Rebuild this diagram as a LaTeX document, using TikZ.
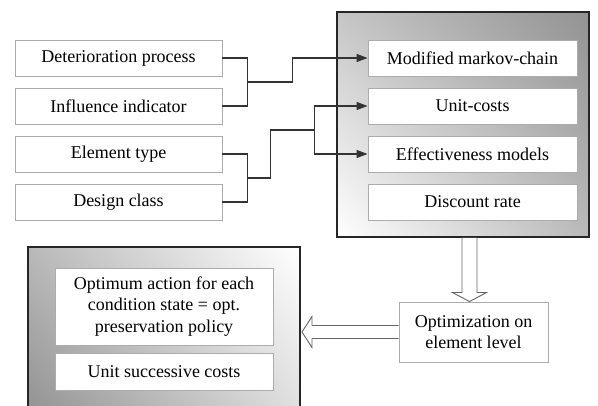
\documentclass[tikz,border=0pt]{standalone}
\usepackage{fontspec}
\setmainfont{Liberation Serif}
\usetikzlibrary{arrows.meta,calc,shadings}

\tikzset{
  item/.style={draw=gray!65, line width=0.9pt, fill=white, inner sep=2pt,
    minimum width=207pt, minimum height=36pt, align=center,
    font=\fontsize{18}{21.5}\selectfont},
  panel/.style={draw=black!85, line width=1.3pt},
  wire/.style={draw=black!80, line width=1.1pt},
  feed/.style={wire, -{Triangle[length=11pt,width=8pt]}},
  hollow/.style={draw=black!60, line width=0.9pt, fill=white, line join=miter},
}

\begin{document}
\begin{tikzpicture}[x=1pt, y=-1pt]
  \useasboundingbox (0,0) rectangle (598,406);

  % shaded panels
  \shade[upper left=gray!45, upper right=gray!85, lower left=white, lower right=gray!55]
    (337,12) rectangle (589,237);
  \draw[panel] (337,12) rectangle (589,237);
  \shade[upper left=gray!55, upper right=white, lower left=gray!85, lower right=gray!25]
    (28,247) rectangle (300,412);
  \draw[panel] (28,247) rectangle (300,412);

  % inputs
  \node[item] (det) at (118.5,58) {Deterioration process};
  \node[item] (inf) at (118.5,106) {Influence indicator};
  \node[item] (elem) at (118.5,154) {Element type};
  \node[item] (design) at (118.5,202) {Design class};

  % model
  \node[item, minimum width=209pt] (mod) at (472.5,58) {Modified markov-chain};
  \node[item, minimum width=209pt] (unit) at (472.5,106) {Unit-costs};
  \node[item, minimum width=209pt] (eff) at (472.5,154) {Effectiveness models};
  \node[item, minimum width=209pt] (disc) at (472.5,202) {Discount rate};

  % results
  \node[item, minimum width=218pt, minimum height=77pt] (opt) at (164,306.5)
    {Optimum action for each\\condition state = opt.\\preservation policy};
  \node[item, minimum width=218pt, minimum height=37pt] (succ) at (164,371.5)
    {Unit successive costs};
  \node[item, minimum width=149pt, minimum height=60pt] (level) at (473.5,332)
    {Optimization on\\element level};

  % connectors
  \draw[wire] (det.east) -- ++(25,0) |- (inf.east);
  \coordinate (j1) at ($(det.east)!0.5!(inf.east)+(25,0)$);
  \draw[feed] (j1) -- ++(45,0) |- (mod.west);
  \draw[wire] (elem.east) -- ++(25,0) |- (design.east);
  \coordinate (j2) at ($(elem.east)!0.5!(design.east)+(25,0)$);
  \coordinate (j3) at ($(unit.west)!0.5!(eff.west)+(-53,0)$);
  \draw[wire] (j2) -- ++(23,0) |- (j3);
  \draw[feed] (j3) |- (unit.west);
  \draw[feed] (j3) |- (eff.west);

  % hollow arrows
  \coordinate (a1) at ($(level.north)+(-4,0)$);
  \coordinate (a0) at (a1 |- 0,238);
  \draw[hollow] ($(a0)+(-7.5,0)$) -- ($(a1)+(-7.5,-9)$) -- ($(a1)+(-17,-9)$) -- (a1)
    -- ($(a1)+(17,-9)$) -- ($(a1)+(7.5,-9)$) -- ($(a0)+(7.5,0)$);
  \coordinate (b0) at (level.west);
  \coordinate (b1) at (302,332);
  \draw[hollow] ($(b0)+(0,-6.5)$) -- ($(b1)+(10,-6.5)$) -- ($(b1)+(10,-15.5)$) -- (b1)
    -- ($(b1)+(10,15.5)$) -- ($(b1)+(10,6.5)$) -- ($(b0)+(0,6.5)$);
\end{tikzpicture}
\end{document}
